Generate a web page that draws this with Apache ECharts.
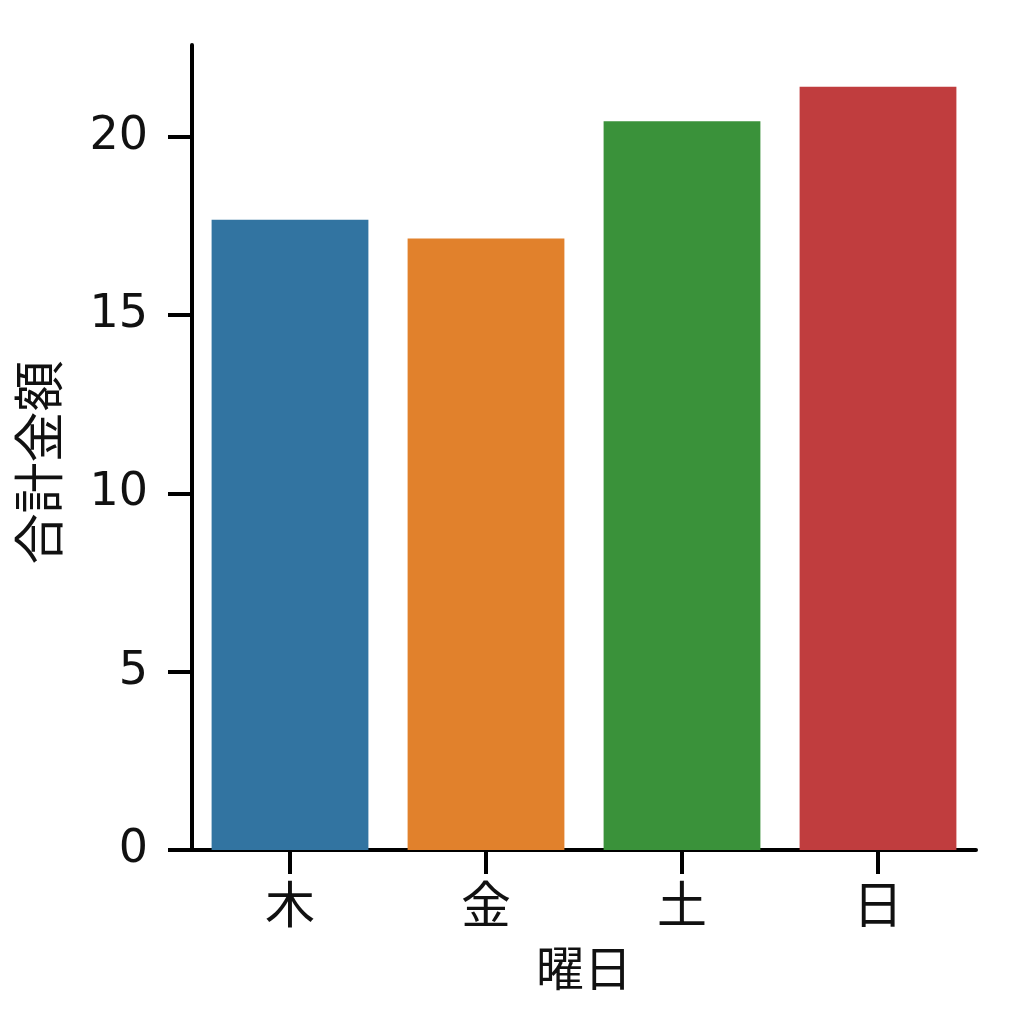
<!DOCTYPE html>
<html>
<head>
<meta charset="utf-8">
<script src="https://cdn.jsdelivr.net/npm/echarts@6/dist/echarts.min.js"></script>
<style>
  html, body { margin:0; padding:0; background:#fff; }
  #chart { width:1024px; height:1024px; }
</style>
</head>
<body>
<div id="chart"></div>
<script>
// 曜日ごとの平均合計金額
const days = ['木', '金', '土', '日'];
const totals = [17.68, 17.15, 20.44, 21.41];
const barColors = ['#3274a1', '#e1812c', '#3a923a', '#c03d3e'];
const yTicks = [0, 5, 10, 15, 20];

const FONT = '"DejaVu Sans", "Noto Sans CJK JP", sans-serif';

const chart = echarts.init(document.getElementById('chart'), null, { renderer: 'canvas' });
chart.setOption({
  backgroundColor: '#fff',
  animation: false,
  grid: { left: 192, right: 48, top: 45, bottom: 174, containLabel: false, outerBoundsMode: 'none' },
  xAxis: {
    type: 'category',
    data: days,
    name: '曜日',
    nameLocation: 'middle',
    nameGap: 100,
    nameTextStyle: { color: '#111', fontSize: 48, fontFamily: FONT },
    axisLine: { lineStyle: { color: '#000', width: 4 } },
    axisTick: { show: true, interval: 0, alignWithLabel: true, length: 24, lineStyle: { color: '#000', width: 4 } },
    axisLabel: { color: '#111', fontSize: 50, fontFamily: FONT, margin: 35 },
    splitLine: { show: false }
  },
  yAxis: {
    type: 'value',
    min: 0,
    max: 22.58,
    name: '合計金額',
    nameLocation: 'middle',
    nameGap: 122,
    nameRotate: 90,
    nameTextStyle: { color: '#111', fontSize: 51, fontFamily: FONT, padding: [0, 30, 0, 0] },
    axisLine: { show: true, lineStyle: { color: '#000', width: 4 } },
    axisTick: { show: true, length: 24, customValues: yTicks, lineStyle: { color: '#000', width: 4 } },
    axisLabel: { color: '#111', fontSize: 46, fontFamily: FONT, margin: 44, customValues: yTicks },
    splitLine: { show: false }
  },
  series: [{
    type: 'bar',
    barWidth: '80%',
    data: totals.map((v, i) => ({ value: v, itemStyle: { color: barColors[i] } }))
  }]
});
</script>
</body>
</html>
